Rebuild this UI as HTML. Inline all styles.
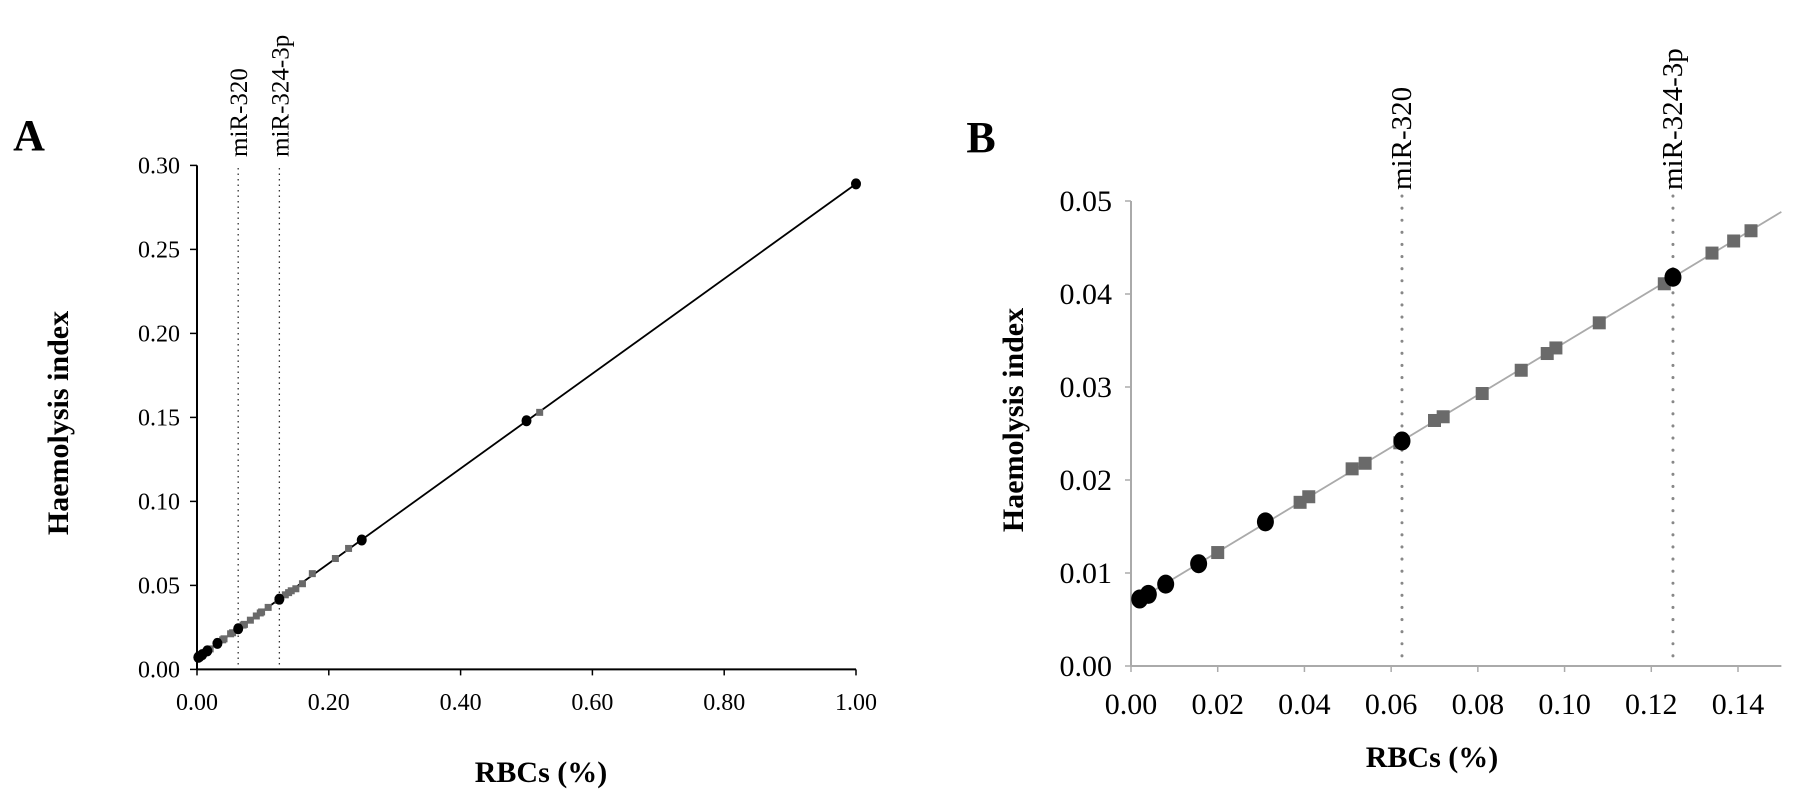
<!DOCTYPE html>
<html><head><meta charset="utf-8"><style>
html,body{margin:0;padding:0;background:#fff;}
svg{display:block;font-family:"Liberation Serif","Times New Roman",serif;}
</style></head><body>
<svg id="c" width="1795" height="794" viewBox="0 0 1795 794" xmlns="http://www.w3.org/2000/svg"></svg>
<script>
const circX = [0.002, 0.004, 0.008, 0.0156, 0.031, 0.0625, 0.125, 0.25, 0.5, 1.0];
const circY = [0.0072, 0.0077, 0.0088, 0.011, 0.0155, 0.0242, 0.0418, 0.077, 0.148, 0.289];
const sqX = [0.020, 0.039, 0.041, 0.051, 0.054, 0.062, 0.070, 0.072, 0.081, 0.090, 0.096, 0.098, 0.108, 0.123, 0.134, 0.139, 0.143];
const sqY = [0.0122, 0.0176, 0.0182, 0.0212, 0.0218, 0.0240, 0.0264, 0.0268, 0.0293, 0.0318, 0.0336, 0.0342, 0.0369, 0.0411, 0.0444, 0.0457, 0.0468];
const sqXA = [0.15, 0.16, 0.175, 0.21, 0.23, 0.52];
const sqYA = [0.048, 0.051, 0.057, 0.066, 0.072, 0.153];
const mirX = [0.0625, 0.125];
const mirLabels = ["miR-320", "miR-324-3p"];
const xTicksA = [0, 0.2, 0.4, 0.6, 0.8, 1.0];
const xTickLabelsA = ["0.00", "0.20", "0.40", "0.60", "0.80", "1.00"];
const yTicksA = [0, 0.05, 0.10, 0.15, 0.20, 0.25, 0.30];
const yTickLabelsA = ["0.00", "0.05", "0.10", "0.15", "0.20", "0.25", "0.30"];
const xTicksB = [0, 0.02, 0.04, 0.06, 0.08, 0.10, 0.12, 0.14];
const xTickLabelsB = ["0.00", "0.02", "0.04", "0.06", "0.08", "0.10", "0.12", "0.14"];
const yTicksB = [0, 0.01, 0.02, 0.03, 0.04, 0.05];
const yTickLabelsB = ["0.00", "0.01", "0.02", "0.03", "0.04", "0.05"];

const NS = "http://www.w3.org/2000/svg";
const svg = document.getElementById("c");
function mk(tag, attrs, parent, text) {
  const e = document.createElementNS(NS, tag);
  for (const k in attrs) e.setAttribute(k, attrs[k]);
  if (text !== undefined) e.textContent = text;
  (parent || svg).appendChild(e);
  return e;
}

const ax = v => 197 + v * 659;
const ay = v => 669.4 - v * (504 / 0.30);
const bx = v => 1131 + v * (607 / 0.14);
const by = v => 666 - v * (465 / 0.05);

// ---- Panel A ----
const gA = mk("g", {});


let t = mk("text", {x: 29, y: 150, "font-size": 44, "font-weight": "bold", "text-anchor": "middle"}, gA, "A");



mirX.forEach((m, i) => {
  const l = mk("line", {x1: ax(m), x2: ax(m), y1: 168, y2: ay(0), stroke: "#333", "stroke-width": 1.3, "stroke-dasharray": "1.5 4"}, gA);
  
  
  const tx = mk("text", {transform: `translate(${ax(m) + 9},157) rotate(-90)`, "font-size": 25}, gA, mirLabels[i]);
  
  
});

let e = mk("line", {x1: 197, x2: 197, y1: ay(0.30), y2: ay(0), stroke: "#000", "stroke-width": 2}, gA);


e = mk("line", {x1: 197, x2: ax(1), y1: ay(0), y2: ay(0), stroke: "#000", "stroke-width": 2}, gA);


yTicksA.forEach((v, i) => {
  mk("line", {x1: 190, x2: 197, y1: ay(v), y2: ay(v), stroke: "#000", "stroke-width": 1.5}, gA);
  const tl = mk("text", {x: 180, y: ay(v) + 8, "font-size": 24, "text-anchor": "end"}, gA, yTickLabelsA[i]);
  
  
});
xTicksA.forEach((v, i) => {
  mk("line", {x1: ax(v), x2: ax(v), y1: ay(0), y2: ay(0) + 6, stroke: "#000", "stroke-width": 1.5}, gA);
  const tl = mk("text", {x: ax(v), y: 710, "font-size": 24, "text-anchor": "middle"}, gA, xTickLabelsA[i]);
  
  
});
e = mk("line", {x1: ax(circX[0]), y1: ay(circY[0]), x2: ax(circX[circX.length - 1]), y2: ay(circY[circY.length - 1]), stroke: "#000", "stroke-width": 1.8}, gA);


const allSqXA = sqX.concat(sqXA), allSqYA = sqY.concat(sqYA);
allSqXA.forEach((v, i) => {
  const r = mk("rect", {x: ax(v) - 3.5, y: ay(allSqYA[i]) - 3.5, width: 7, height: 7, fill: "#6a6a6a"}, gA);
  
  
});
circX.forEach((v, i) => {
  const c = mk("ellipse", {cx: ax(v), cy: ay(circY[i]), rx: 5, ry: 5.5, fill: "#000"}, gA);
  
  
});
t = mk("text", {transform: "translate(68,423) rotate(-90)", "font-size": 30, "font-weight": "bold", "text-anchor": "middle"}, gA, "Haemolysis index");


t = mk("text", {x: 541, y: 782, "font-size": 30, "font-weight": "bold", "text-anchor": "middle"}, gA, "RBCs (%)");



// ---- Panel B ----
const gB = mk("g", {});


t = mk("text", {x: 981, y: 152, "font-size": 44, "font-weight": "bold", "text-anchor": "middle"}, gB, "B");



mirX.forEach((m, i) => {
  const l = mk("line", {x1: bx(m), x2: bx(m), y1: 196, y2: by(0), stroke: "#888", "stroke-width": 3, "stroke-linecap": "round", "stroke-dasharray": "0.1 12"}, gB);
  
  
  const tx = mk("text", {transform: `translate(${bx(m) + 9},190) rotate(-90)`, "font-size": 29}, gB, mirLabels[i]);
  
  
});

e = mk("line", {x1: 1131, x2: 1131, y1: by(0.05), y2: by(0), stroke: "#aaa", "stroke-width": 2}, gB);


e = mk("line", {x1: 1131, x2: bx(0.15), y1: by(0), y2: by(0), stroke: "#aaa", "stroke-width": 2}, gB);


yTicksB.forEach((v, i) => {
  mk("line", {x1: 1125, x2: 1131, y1: by(v), y2: by(v), stroke: "#aaa", "stroke-width": 1.5}, gB);
  const tl = mk("text", {x: 1112, y: by(v) + 10, "font-size": 30, "text-anchor": "end"}, gB, yTickLabelsB[i]);
  
  
});
xTicksB.forEach((v, i) => {
  mk("line", {x1: bx(v), x2: bx(v), y1: by(0), y2: by(0) + 6, stroke: "#aaa", "stroke-width": 1.5}, gB);
  const tl = mk("text", {x: bx(v), y: 714, "font-size": 30, "text-anchor": "middle"}, gB, xTickLabelsB[i]);
  
  
});
const x0 = circX[0], y0 = circY[0], x1 = circX[6], y1 = circY[6];
const slope = (y1 - y0) / (x1 - x0);
e = mk("line", {x1: bx(0), y1: by(y0 - slope * x0), x2: bx(0.15), y2: by(y0 + slope * (0.15 - x0)), stroke: "#aaa", "stroke-width": 1.8}, gB);


sqX.forEach((v, i) => {
  const r = mk("rect", {x: bx(v) - 6.5, y: by(sqY[i]) - 6.5, width: 13, height: 13, fill: "#6a6a6a"}, gB);
  
  
});
circX.forEach((v, i) => {
  if (v > 0.15) return;
  const c = mk("ellipse", {cx: bx(v), cy: by(circY[i]), rx: 8.5, ry: 9.5, fill: "#000"}, gB);
  
  
});
t = mk("text", {transform: "translate(1023,420) rotate(-90)", "font-size": 30, "font-weight": "bold", "text-anchor": "middle"}, gB, "Haemolysis index");


t = mk("text", {x: 1432, y: 767, "font-size": 30, "font-weight": "bold", "text-anchor": "middle"}, gB, "RBCs (%)");


</script>
</body></html>
